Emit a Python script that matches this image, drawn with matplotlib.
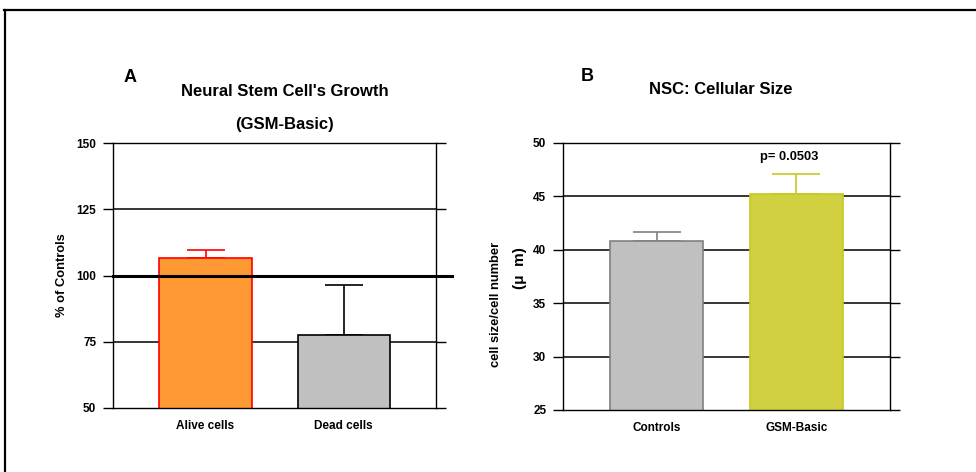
import matplotlib
matplotlib.use("Agg")
import matplotlib.pyplot as plt
from matplotlib.lines import Line2D

plt.rcParams['font.family'] = ['Liberation Sans', 'DejaVu Sans']
plt.rcParams['font.weight'] = 'bold'

# panel A: growth as % of controls
growth_labels = ['Alive cells', 'Dead cells']
growth_values = [106.5, 77.5]
growth_err = [3.0, 19.0]
growth_ticks = [50, 75, 100, 125, 150]

# panel B: cellular size
size_labels = ['Controls', 'GSM-Basic']
size_values = [40.8, 45.2]
size_err = [0.9, 1.9]
size_ticks = [25, 30, 35, 40, 45, 50]
p_text = 'p= 0.0503'

fig = plt.figure(figsize=(9.76, 4.72), dpi=100)

# outer frame
fig.add_artist(Line2D([0.004, 1.0], [0.979, 0.979], color='black', lw=1.6,
                      transform=fig.transFigure))
fig.add_artist(Line2D([0.005, 0.005], [0.0, 0.979], color='black', lw=1.6,
                      transform=fig.transFigure))


def style_axes(ax, ticks):
    ax.set_yticks(ticks)
    ax.set_ylim(ticks[0], ticks[-1])
    ax.tick_params(axis='y', left=True, right=True, direction='out', length=7,
                   width=1, labelsize=8.5, pad=5)
    ax.tick_params(axis='x', length=0, labelsize=8.5, pad=9)
    for lab in ax.get_yticklabels() + ax.get_xticklabels():
        lab.set_fontweight('bold')
    for s in ax.spines.values():
        s.set_linewidth(1)
    for t in ticks[1:-1]:
        ax.axhline(t, color='black', lw=1.1, zorder=0)
    ax.set_xlim(-0.67, 1.67)


# --- A ---
axA = fig.add_axes([0.1158, 0.1356, 0.331, 0.5614])
xA = range(len(growth_labels))
axA.bar(xA, growth_values, width=0.667, bottom=0,
        color=['#FF9933', '#C0C0C0'], edgecolor=['#FF0000', '#000000'],
        linewidth=1.2, zorder=2)
for i in xA:
    ecol = '#FF0000' if i == 0 else '#000000'
    axA.errorbar(i, growth_values[i], yerr=[[0], [growth_err[i]]], fmt='none',
                 ecolor=ecol, elinewidth=1.2, capsize=14, capthick=1.2, zorder=1)
style_axes(axA, growth_ticks)
axA.set_xticks(list(xA))
axA.set_xticklabels(growth_labels)
axA.axhline(100, xmin=0, xmax=1.05, color='black', lw=2.2, clip_on=False, zorder=3)
axA.set_ylabel('% of Controls', fontsize=9.3, fontweight='bold', labelpad=6)
fig.text(0.133, 0.835, 'A', fontsize=13, fontweight='bold', ha='center', va='center')
fig.text(0.292, 0.807, "Neural Stem Cell's Growth", fontsize=12, fontweight='bold',
         ha='center', va='center')
fig.text(0.292, 0.737, '(GSM-Basic)', fontsize=12, fontweight='bold',
         ha='center', va='center')

# --- B ---
axB = fig.add_axes([0.5768, 0.1314, 0.335, 0.5657])
xB = range(len(size_labels))
axB.bar(xB, size_values, width=0.667,
        color=['#C0C0C0', '#D0D040'], edgecolor=['#808080', '#C8C820'],
        linewidth=1.2, zorder=2)
for i in xB:
    ecol = '#808080' if i == 0 else '#C8C820'
    axB.errorbar(i, size_values[i], yerr=[[0], [size_err[i]]], fmt='none',
                 ecolor=ecol, elinewidth=1.2, capsize=17, capthick=1.2, zorder=1)
style_axes(axB, size_ticks)
axB.set_xticks(list(xB))
axB.set_xticklabels(size_labels)
axB.text(0.95, 48.7, p_text, fontsize=9.3, fontweight='bold', ha='center', va='center')
fig.text(0.508, 0.354, 'cell size/cell number', fontsize=9.3, fontweight='bold',
         rotation=90, ha='center', va='center')
fig.text(0.533, 0.432, '(\u03bc  m)', fontsize=11, fontweight='bold',
         rotation=90, ha='center', va='center')
fig.text(0.602, 0.837, 'B', fontsize=13, fontweight='bold', ha='center', va='center')
fig.text(0.738, 0.811, 'NSC: Cellular Size', fontsize=12, fontweight='bold',
         ha='center', va='center')

fig.savefig('out.png', dpi=100)
